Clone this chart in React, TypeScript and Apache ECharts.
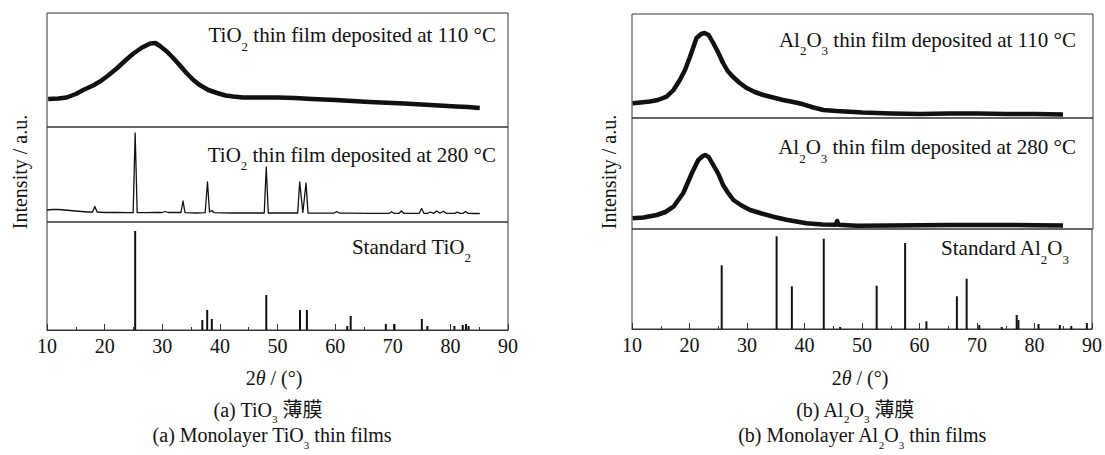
import React, { useEffect, useRef } from "react";
import * as echarts from "echarts";

const SERIF = "Liberation Serif";
const SERIF_CJK = "Liberation Serif, Noto Sans CJK SC";
const INK = "#111";
const FRAME = "#333";

// ---- (a) TiO2 films: 2θ (deg) and intensity (a.u.) ----
const tio2At110Theta = [10.2, 12, 13.4, 15, 16.3, 18, 19.2, 20.5, 22.1, 23.5, 25, 26.5, 27.9, 28.8, 29.6, 30.8, 31.9, 33, 34.2, 35.4, 36.5, 38, 39.5, 41, 42.3, 44, 45.8, 48, 50, 53, 56, 60, 63, 66, 70, 72, 75, 78, 81, 83, 85.1];
const tio2At110Int = [28, 28.5, 29.5, 33, 37, 41.5, 45.5, 51, 58.5, 66, 73.5, 79.5, 83.5, 84, 81, 75.5, 69, 62, 54, 47, 42, 37, 34, 31.5, 30.5, 29.5, 29.5, 29.5, 29.5, 29, 28, 27, 26, 25, 24, 23.5, 22.5, 21.5, 20.5, 20, 19];

const tio2At280Theta = [10, 11, 12, 13, 14, 15, 16, 17, 17.9, 18.3, 18.7, 20, 22, 24, 24.95, 25.3, 25.65, 27, 29, 30, 30.5, 31, 32, 33.25, 33.6, 33.95, 36, 37.45, 37.85, 38.2, 38.6, 39, 42, 45, 47.7, 48.05, 48.4, 50, 53.5, 53.85, 54.4, 54.95, 55.3, 57, 59.8, 60.3, 60.8, 62, 66, 69.4, 69.8, 70.2, 71.1, 71.5, 71.9, 73, 74.6, 75.0, 75.4, 76.1, 76.5, 77.1, 77.6, 78.2, 78.8, 79.3, 80, 80.8, 81.2, 81.7, 82.2, 82.6, 83.1, 84, 85.1];
const tio2At280Int = [12, 12.5, 12.5, 12, 11.5, 11, 10.5, 10, 10, 15.5, 10, 9.5, 9.5, 9.3, 9.3, 89, 9.3, 9.3, 9.5, 9.5, 10.5, 9.5, 9.5, 9.5, 21, 9.3, 9, 9.3, 40, 10, 11.5, 9.3, 9, 9, 9, 55, 9, 9, 9, 40, 9.5, 39, 9, 8.8, 8.8, 10.5, 8.8, 8.8, 8.7, 8.7, 10.3, 8.7, 8.7, 11, 8.7, 8.7, 8.7, 13.5, 8.7, 8.7, 10, 8.7, 11, 8.7, 10.8, 8.7, 8.7, 8.7, 9.8, 8.6, 8.6, 10.5, 8.6, 8.5, 8.5];

const tio2StdTheta = [25.3, 36.95, 37.8, 38.6, 48.05, 53.9, 55.1, 62.1, 62.7, 68.8, 70.3, 75.05, 76.0, 80.7, 82.15, 82.7, 83.15];
const tio2StdInt = [99, 10, 20, 11, 35, 20, 20, 4, 14, 6, 6, 11, 4, 4, 5, 6, 4];

// ---- (b) Al2O3 films ----
const al2o3At110Theta = [10.1, 11.5, 13.1, 14.5, 16, 17.2, 18.3, 19.2, 20.05, 21.2, 22, 22.6, 23.3, 24.1, 25, 25.8, 26.6, 27.55, 28.7, 29.9, 31.3, 32.8, 34.5, 36.2, 38, 39.7, 41.5, 43.2, 45.5, 47.8, 50, 55, 60, 65, 70, 75, 80, 84.8];
const al2o3At110Int = [14.7, 15.5, 16.5, 18, 21.3, 28, 38, 48, 61, 80, 84, 85, 83, 75, 65, 55, 47, 41, 35, 30, 26, 23, 20.5, 18, 16, 13.7, 10.5, 8, 7, 6.3, 5.5, 4.5, 4, 4.5, 4.5, 4, 4, 3.5];

const al2o3At280Theta = [10.1, 12, 14.3, 15.8, 17.2, 18.9, 20.4, 21.5, 22.3, 22.7, 23.3, 24.1, 25, 25.8, 26.7, 27.6, 29, 30.5, 32.5, 34.5, 37, 40.3, 43, 45.4, 45.6, 45.8, 49, 55, 60, 65, 70, 75, 80, 84.8];
const al2o3At280Int = [10.7, 11.5, 14, 17, 22.3, 36, 56, 69, 73, 74, 72, 64, 55, 44, 36, 29, 23.5, 19, 15.5, 12.3, 9, 5.7, 4.5, 4.3, 8, 4.3, 3.3, 3.5, 3.8, 4, 4, 4, 3.8, 3.5];

const al2o3StdTheta = [25.6, 35.15, 37.8, 43.35, 46.2, 52.55, 57.5, 61.2, 66.5, 68.2, 70.4, 74.3, 76.9, 77.2, 80.7, 84.4, 86.4, 89.1];
const al2o3StdInt = [63.7, 92.7, 42.7, 90.3, 2, 43.3, 86, 7.7, 32.7, 50.3, 4, 2, 14, 9, 5, 4, 3, 6];

const xTicks = { min: 10, max: 90, step: 10 };

const zip = (xs: number[], ys: number[]) => xs.map((x, i) => [x, ys[i]]);

// rich-text styles: body text plus a lowered subscript kept inside a tight box
const richFor = (size: number, sub: number, drop: number) => {
  const subBox = Math.round(sub * 0.7);
  const baseline = size / 2 + size * 0.34;
  const subCenter = baseline + drop - sub * 0.34;
  return {
    m: { fontFamily: SERIF_CJK, fontSize: size, lineHeight: size, verticalAlign: "top", fill: INK, color: INK },
    i: { fontFamily: SERIF, fontStyle: "italic", fontSize: size, lineHeight: size, verticalAlign: "top", fill: INK, color: INK },
    s: {
      fontFamily: SERIF,
      fontSize: sub,
      lineHeight: subBox,
      padding: [Math.round(subCenter - subBox / 2), 0, 0, 0],
      verticalAlign: "top",
      fill: INK,
      color: INK,
    },
  };
};

// y is the baseline of the body text
const richText = (text: string, x: number, y: number, align: string, size = 21, sub = 13, drop = 6) => ({
  type: "text",
  x,
  y: y - (size / 2 + size * 0.34),
  style: {
    text,
    align,
    verticalAlign: "top",
    rich: richFor(size, sub, drop),
    fill: INK,
  },
});

export default function App() {
  const ref = useRef<HTMLDivElement>(null);

  useEffect(() => {
    if (!ref.current) return;
    const chart = echarts.init(ref.current, undefined, { renderer: "svg" });

    const boxes = [
      { left: 47, top: 13, width: 461, height: 114, yMax: 114 },
      { left: 47, top: 127, width: 461, height: 95, yMax: 95 },
      { left: 47, top: 222, width: 461, height: 108, yMax: 108 },
      { left: 632, top: 14, width: 461, height: 104, yMax: 104 },
      { left: 632, top: 118, width: 461, height: 111, yMax: 111 },
      { left: 632, top: 229, width: 461, height: 100, yMax: 100 },
    ];
    const isBottom = (i: number) => i === 2 || i === 5;

    const lineSeries = (idx: number, data: number[][], width: number) => ({
      type: "line",
      xAxisIndex: idx,
      yAxisIndex: idx,
      data,
      showSymbol: false,
      symbol: "none",
      lineStyle: { color: INK, width, join: "round" },
      silent: true,
    });
    const stickSeries = (idx: number, data: number[][]) => ({
      type: "bar",
      xAxisIndex: idx,
      yAxisIndex: idx,
      data,
      barWidth: 2,
      itemStyle: { color: INK },
      silent: true,
    });

    const yTitle = (x: number) => ({
      type: "text",
      x,
      y: 172,
      rotation: Math.PI / 2,
      style: {
        text: "Intensity / a.u.",
        fontFamily: SERIF,
        fontSize: 20,
        fill: INK,
        align: "center",
        verticalAlign: "middle",
      },
    });

    const labels = [
      richText("{m|TiO}{s|2}{m| thin film deposited at 110 °C}", 496, 42.5, "right"),
      richText("{m|TiO}{s|2}{m| thin film deposited at 280 °C}", 496, 162, "right"),
      richText("{m|Standard TiO}{s|2}", 471, 254, "right"),
      richText("{m|Al}{s|2}{m|O}{s|3}{m| thin film deposited at 110 °C}", 1076, 47, "right"),
      richText("{m|Al}{s|2}{m|O}{s|3}{m| thin film deposited at 280 °C}", 1076, 154.5, "right"),
      richText("{m|Standard Al}{s|2}{m|O}{s|3}", 1069, 255.5, "right"),
      richText("{m|2}{i|θ}{m| / (°)}", 274, 385, "center", 20, 12, 5),
      richText("{m|2}{i|θ}{m| / (°)}", 860, 385, "center", 20, 12, 5),
      richText("{m|(a) TiO}{s|3}{m| 薄膜}", 268, 416.5, "center", 20, 11, 5),
      richText("{m|(b) Al}{s|2}{m|O}{s|3}{m| 薄膜}", 855, 416.5, "center", 20, 11, 5),
      richText("{m|(a) Monolayer TiO}{s|3}{m| thin films}", 272, 442, "center", 20, 11, 5),
      richText("{m|(b) Monolayer Al}{s|2}{m|O}{s|3}{m| thin films}", 862, 442, "center", 20, 11, 5),
      yTitle(20),
      yTitle(609),
    ];

    chart.setOption({
      animation: false,
      backgroundColor: "#fff",
      textStyle: { fontFamily: SERIF },
      grid: boxes.map((b) => ({
        left: b.left,
        top: b.top,
        width: b.width,
        height: b.height,
        show: true,
        borderColor: FRAME,
        borderWidth: 1,
        backgroundColor: "transparent",
        containLabel: false,
      })),
      xAxis: boxes.map((_, i) => ({
        type: "value",
        gridIndex: i,
        min: xTicks.min,
        max: xTicks.max,
        interval: xTicks.step,
        show: isBottom(i),
        axisLine: { show: true, onZero: false, lineStyle: { color: FRAME, width: 1 } },
        axisTick: { show: true, inside: true, length: 6, lineStyle: { color: FRAME, width: 1 } },
        minorTick: { show: true, splitNumber: 2, length: 3, lineStyle: { color: FRAME, width: 1 } },
        axisLabel: { fontFamily: SERIF, fontSize: 20, color: INK, margin: 6 },
        splitLine: { show: false },
        minorSplitLine: { show: false },
      })),
      yAxis: boxes.map((b, i) => ({
        type: "value",
        gridIndex: i,
        min: 0,
        max: b.yMax,
        show: false,
        splitLine: { show: false },
      })),
      series: [
        lineSeries(0, zip(tio2At110Theta, tio2At110Int), 4.5),
        lineSeries(1, zip(tio2At280Theta, tio2At280Int), 1.3),
        stickSeries(2, zip(tio2StdTheta, tio2StdInt)),
        lineSeries(3, zip(al2o3At110Theta, al2o3At110Int), 4.5),
        lineSeries(4, zip(al2o3At280Theta, al2o3At280Int), 4.5),
        stickSeries(5, zip(al2o3StdTheta, al2o3StdInt)),
      ],
      graphic: labels,
    });

    return () => chart.dispose();
  }, []);

  return (
    <div
      ref={ref}
      style={{ position: "fixed", left: 0, top: 0, width: 1105, height: 455, background: "#fff" }}
    />
  );
}
